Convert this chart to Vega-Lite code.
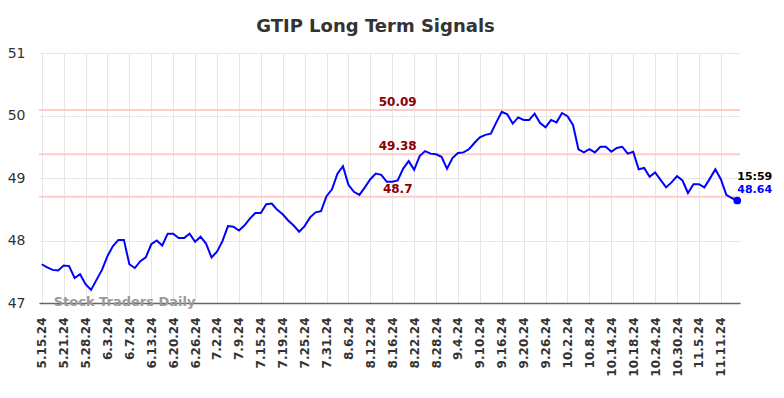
{
  "$schema": "https://vega.github.io/schema/vega-lite/v6.json",
  "autosize": {"type": "none"},
  "width": 701,
  "height": 250,
  "padding": {"left": 39, "top": 53, "right": 44, "bottom": 95},
  "background": "white",
  "title": {"text": "GTIP Long Term Signals", "fontSize": 18, "fontWeight": "bold", "font": "DejaVu Sans", "color": "#333333", "offset": 10, "dx": -14},
  "config": {"view": {"stroke": null}},
  "datasets": {
    "price": [
      {"d":"5.15.24","v":47.62},{"d":"5.16.24","v":47.57},{"d":"5.17.24","v":47.53},{"d":"5.20.24","v":47.52},{"d":"5.21.24","v":47.60},
      {"d":"5.22.24","v":47.59},{"d":"5.23.24","v":47.40},{"d":"5.24.24","v":47.46},{"d":"5.28.24","v":47.30},{"d":"5.29.24","v":47.21},
      {"d":"5.30.24","v":47.37},{"d":"5.31.24","v":47.53},{"d":"6.3.24","v":47.75},{"d":"6.4.24","v":47.91},{"d":"6.5.24","v":48.01},
      {"d":"6.6.24","v":48.01},{"d":"6.7.24","v":47.62},{"d":"6.10.24","v":47.56},{"d":"6.11.24","v":47.67},{"d":"6.12.24","v":47.73},
      {"d":"6.13.24","v":47.94},{"d":"6.14.24","v":48.00},{"d":"6.17.24","v":47.92},{"d":"6.18.24","v":48.11},{"d":"6.20.24","v":48.11},
      {"d":"6.21.24","v":48.04},{"d":"6.24.24","v":48.04},{"d":"6.25.24","v":48.11},{"d":"6.26.24","v":47.98},{"d":"6.27.24","v":48.06},
      {"d":"6.28.24","v":47.95},{"d":"7.1.24","v":47.73},{"d":"7.2.24","v":47.82},{"d":"7.3.24","v":47.99},{"d":"7.5.24","v":48.23},
      {"d":"7.8.24","v":48.22},{"d":"7.9.24","v":48.16},{"d":"7.10.24","v":48.24},{"d":"7.11.24","v":48.35},{"d":"7.12.24","v":48.44},
      {"d":"7.15.24","v":48.44},{"d":"7.16.24","v":48.58},{"d":"7.17.24","v":48.59},{"d":"7.18.24","v":48.49},{"d":"7.19.24","v":48.42},
      {"d":"7.22.24","v":48.32},{"d":"7.23.24","v":48.24},{"d":"7.24.24","v":48.14},{"d":"7.25.24","v":48.23},{"d":"7.26.24","v":48.37},
      {"d":"7.29.24","v":48.45},{"d":"7.30.24","v":48.47},{"d":"7.31.24","v":48.71},{"d":"8.1.24","v":48.82},{"d":"8.2.24","v":49.07},
      {"d":"8.5.24","v":49.19},{"d":"8.6.24","v":48.89},{"d":"8.7.24","v":48.78},{"d":"8.8.24","v":48.73},{"d":"8.9.24","v":48.85},
      {"d":"8.12.24","v":48.98},{"d":"8.13.24","v":49.07},{"d":"8.14.24","v":49.05},{"d":"8.15.24","v":48.94},{"d":"8.16.24","v":48.94},
      {"d":"8.19.24","v":48.96},{"d":"8.20.24","v":49.15},{"d":"8.21.24","v":49.27},{"d":"8.22.24","v":49.13},{"d":"8.23.24","v":49.35},
      {"d":"8.26.24","v":49.43},{"d":"8.27.24","v":49.39},{"d":"8.28.24","v":49.38},{"d":"8.29.24","v":49.34},{"d":"8.30.24","v":49.15},
      {"d":"9.3.24","v":49.32},{"d":"9.4.24","v":49.40},{"d":"9.5.24","v":49.41},{"d":"9.6.24","v":49.46},{"d":"9.9.24","v":49.56},
      {"d":"9.10.24","v":49.65},{"d":"9.11.24","v":49.69},{"d":"9.12.24","v":49.71},{"d":"9.13.24","v":49.89},{"d":"9.16.24","v":50.06},
      {"d":"9.17.24","v":50.02},{"d":"9.18.24","v":49.87},{"d":"9.19.24","v":49.97},{"d":"9.20.24","v":49.93},{"d":"9.23.24","v":49.93},
      {"d":"9.24.24","v":50.03},{"d":"9.25.24","v":49.88},{"d":"9.26.24","v":49.81},{"d":"9.27.24","v":49.93},{"d":"9.30.24","v":49.89},
      {"d":"10.1.24","v":50.04},{"d":"10.2.24","v":49.99},{"d":"10.3.24","v":49.85},{"d":"10.4.24","v":49.46},{"d":"10.7.24","v":49.41},
      {"d":"10.8.24","v":49.46},{"d":"10.9.24","v":49.41},{"d":"10.10.24","v":49.50},{"d":"10.11.24","v":49.50},{"d":"10.14.24","v":49.42},
      {"d":"10.15.24","v":49.48},{"d":"10.16.24","v":49.50},{"d":"10.17.24","v":49.39},{"d":"10.18.24","v":49.42},{"d":"10.21.24","v":49.14},
      {"d":"10.22.24","v":49.16},{"d":"10.23.24","v":49.02},{"d":"10.24.24","v":49.09},{"d":"10.25.24","v":48.97},{"d":"10.28.24","v":48.85},
      {"d":"10.29.24","v":48.93},{"d":"10.30.24","v":49.03},{"d":"10.31.24","v":48.96},{"d":"11.1.24","v":48.76},{"d":"11.4.24","v":48.90},
      {"d":"11.5.24","v":48.90},{"d":"11.6.24","v":48.85},{"d":"11.7.24","v":48.99},{"d":"11.8.24","v":49.14},{"d":"11.11.24","v":48.98},
      {"d":"11.12.24","v":48.73},{"d":"11.13.24","v":48.68},{"d":"11.14.24","v":48.64}
    ],
    "levels": [
      {"v": 50.09, "label": "50.09"},
      {"v": 49.38, "label": "49.38"},
      {"v": 48.7, "label": "48.7"}
    ],
    "watermark": [
      {"text": "Stock Traders Daily"}
    ]
  },
  "layer": [
    {
      "data": {"name": "levels"},
      "mark": {"type": "rule", "color": "#ffcccc", "strokeWidth": 2},
      "encoding": {
        "y": {"field": "v", "type": "quantitative"}
      }
    },
    {
      "data": {"name": "price"},
      "mark": {"type": "line", "color": "#0000ff", "strokeWidth": 2},
      "encoding": {
        "x": {
          "field": "d", "type": "ordinal", "sort": null,
          "scale": {"type": "point", "padding": 0.5, "domain": ["5.15.24","5.16.24","5.17.24","5.20.24","5.21.24","5.22.24","5.23.24","5.24.24","5.28.24","5.29.24","5.30.24","5.31.24","6.3.24","6.4.24","6.5.24","6.6.24","6.7.24","6.10.24","6.11.24","6.12.24","6.13.24","6.14.24","6.17.24","6.18.24","6.20.24","6.21.24","6.24.24","6.25.24","6.26.24","6.27.24","6.28.24","7.1.24","7.2.24","7.3.24","7.5.24","7.8.24","7.9.24","7.10.24","7.11.24","7.12.24","7.15.24","7.16.24","7.17.24","7.18.24","7.19.24","7.22.24","7.23.24","7.24.24","7.25.24","7.26.24","7.29.24","7.30.24","7.31.24","8.1.24","8.2.24","8.5.24","8.6.24","8.7.24","8.8.24","8.9.24","8.12.24","8.13.24","8.14.24","8.15.24","8.16.24","8.19.24","8.20.24","8.21.24","8.22.24","8.23.24","8.26.24","8.27.24","8.28.24","8.29.24","8.30.24","9.3.24","9.4.24","9.5.24","9.6.24","9.9.24","9.10.24","9.11.24","9.12.24","9.13.24","9.16.24","9.17.24","9.18.24","9.19.24","9.20.24","9.23.24","9.24.24","9.25.24","9.26.24","9.27.24","9.30.24","10.1.24","10.2.24","10.3.24","10.4.24","10.7.24","10.8.24","10.9.24","10.10.24","10.11.24","10.14.24","10.15.24","10.16.24","10.17.24","10.18.24","10.21.24","10.22.24","10.23.24","10.24.24","10.25.24","10.28.24","10.29.24","10.30.24","10.31.24","11.1.24","11.4.24","11.5.24","11.6.24","11.7.24","11.8.24","11.11.24","11.12.24","11.13.24","11.14.24"]},
          "axis": {
            "title": null,
            "values": ["5.15.24","5.21.24","5.28.24","6.3.24","6.7.24","6.13.24","6.20.24","6.26.24","7.2.24","7.9.24","7.15.24","7.19.24","7.25.24","7.31.24","8.6.24","8.12.24","8.16.24","8.22.24","8.28.24","9.4.24","9.10.24","9.16.24","9.20.24","9.26.24","10.2.24","10.8.24","10.14.24","10.18.24","10.24.24","10.30.24","11.5.24","11.11.24"],
            "labelAngle": -90, "labelFont": "DejaVu Sans", "labelFontSize": 12, "labelFontWeight": "bold",
            "labelColor": "#333333", "labelPadding": 14, "ticks": false,
            "grid": true, "gridColor": "#e6e6e6", "gridWidth": 1,
            "domain": true, "domainColor": "#666666", "domainWidth": 1.5
          }
        },
        "y": {
          "field": "v", "type": "quantitative",
          "scale": {"domain": [47, 51], "nice": false, "zero": false},
          "axis": {
            "title": null, "values": [47, 48, 49, 50, 51], "format": "d", "labelFont": "DejaVu Sans", "labelFontSize": 14,
            "labelColor": "#333333", "labelPadding": 14, "ticks": false, "domain": false,
            "grid": true, "gridColor": "#e6e6e6", "gridWidth": 1
          }
        }
      }
    },
    {
      "data": {"name": "levels"},
      "mark": {"type": "text", "color": "#8b0000", "font": "DejaVu Sans", "fontSize": 12, "fontWeight": "bold", "dy": -8, "align": "center", "baseline": "middle"},
      "encoding": {
        "x": {"datum": "8.19.24", "type": "ordinal"},
        "y": {"field": "v", "type": "quantitative"},
        "text": {"field": "label"}
      }
    },
    {
      "data": {"name": "price"},
      "transform": [{"filter": "datum.d == '11.14.24'"}],
      "layer": [
        {
          "mark": {"type": "point", "filled": true, "color": "#0000ff", "size": 60, "opacity": 1},
          "encoding": {"x": {"field": "d", "type": "ordinal"}, "y": {"field": "v", "type": "quantitative"}}
        },
        {
          "mark": {"type": "text", "color": "#000000", "font": "DejaVu Sans", "fontSize": 11, "fontWeight": "bold", "align": "left", "baseline": "middle", "dy": -24},
          "encoding": {"x": {"field": "d", "type": "ordinal"}, "y": {"field": "v", "type": "quantitative"}, "text": {"value": "15:59"}}
        },
        {
          "mark": {"type": "text", "color": "#0000ff", "font": "DejaVu Sans", "fontSize": 11, "fontWeight": "bold", "align": "left", "baseline": "middle", "dy": -11},
          "encoding": {"x": {"field": "d", "type": "ordinal"}, "y": {"field": "v", "type": "quantitative"}, "text": {"field": "v", "type": "quantitative", "format": ".2f"}}
        }
      ]
    },
    {
      "data": {"name": "watermark"},
      "mark": {"type": "text", "color": "#9a9a9a", "opacity": 1, "font": "DejaVu Sans", "fontSize": 13, "fontWeight": "bold", "align": "left", "baseline": "middle", "dy": -1, "dx": 1, "zindex": 2},
      "encoding": {
        "x": {"datum": "5.17.24", "type": "ordinal"},
        "y": {"datum": 47, "type": "quantitative"},
        "text": {"field": "text"}
      }
    }
  ]
}
